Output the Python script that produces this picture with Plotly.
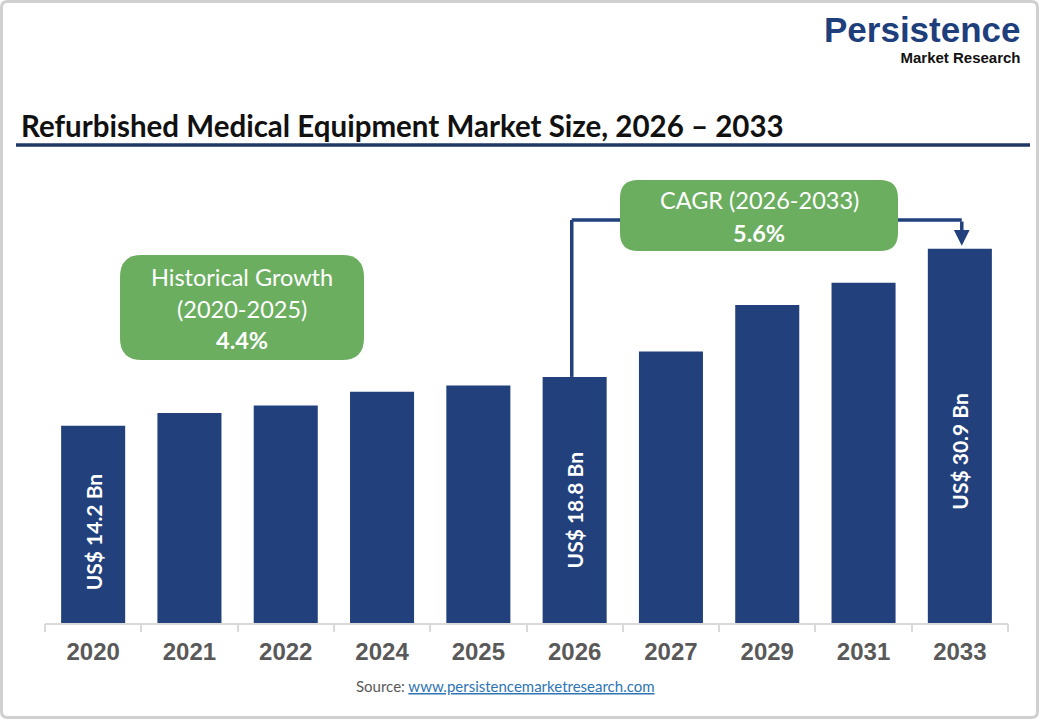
import plotly.graph_objects as go

# ---------------- data ----------------
years = ['2020', '2021', '2022', '2024', '2025', '2026', '2027', '2029', '2031', '2033']
market_size_bn = [14.2, 15.4, 16.1, 17.4, 18.0, 18.8, 21.2, 25.6, 27.7, 30.9]
labeled_years = ['2020', '2026', '2033']
hist_lines = ['Historical Growth', '(2020-2025)', '4.4%']
cagr_lines = ['CAGR (2026-2033)', '5.6%']
cagr_from, cagr_to = '2026', '2033'
title_text = 'Refurbished Medical Equipment Market Size, 2026 – 2033'
source_url = 'www.persistencemarketresearch.com'
brand = 'Persistence'
brand_sub = 'Market Research'

# ---------------- style ----------------
W, H = 1040, 720
NAVY = '#22407C'
GREEN = '#6BAE5F'
BODY = 'Lato'
FLOOR = -4.43   # value axis floor
YTOP = 35.5
PLOT_TOP, PLOT_BOT = 200, 623


def px(x):
    return x / W


def py(y):
    return 1 - y / H


def val_at_pixel(ypix):
    return FLOOR + (PLOT_BOT - ypix) * (YTOP - FLOOR) / (PLOT_BOT - PLOT_TOP)


def rounded(x0, y0, x1, y1, r):
    pts = [
        ('M', [(x0 + r, y0)]), ('L', [(x1 - r, y0)]), ('Q', [(x1, y0), (x1, y0 + r)]),
        ('L', [(x1, y1 - r)]), ('Q', [(x1, y1), (x1 - r, y1)]), ('L', [(x0 + r, y1)]),
        ('Q', [(x0, y1), (x0, y1 - r)]), ('L', [(x0, y0 + r)]), ('Q', [(x0, y0), (x0 + r, y0)]),
    ]
    s = ''
    for cmd, ps in pts:
        s += cmd + ' ' + ' '.join(f'{px(a):.5f},{py(b):.5f}' for a, b in ps) + ' '
    return s + 'Z'


xpos = list(range(len(years)))

fig = go.Figure()
fig.add_trace(go.Bar(
    x=xpos,
    y=[v - FLOOR for v in market_size_bn],
    base=FLOOR,
    marker=dict(color=NAVY, line=dict(width=0)),
    hoverinfo='skip',
))

shapes = []
annotations = []

# outer border
shapes.append(dict(type='path', xref='paper', yref='paper',
                   path=rounded(1.5, 1.5, 1037.5, 717.5, 6),
                   line=dict(color='#D0D0D0', width=3), layer='above'))
# title underline
shapes.append(dict(type='line', xref='paper', yref='paper',
                   x0=px(16), x1=px(1030), y0=py(145), y1=py(145),
                   line=dict(color='#1F3864', width=3.5)))

# connector
i0 = years.index(cagr_from)
i1 = years.index(cagr_to)
v0 = market_size_bn[i0]
v1 = market_size_bn[i1]
level = val_at_pixel(220)
shapes.append(dict(type='line', xref='x', yref='y', x0=i0 - 0.03, x1=i0 - 0.03, y0=v0, y1=level,
                   line=dict(color=NAVY, width=3.5)))
shapes.append(dict(type='line', xref='x', yref='y', x0=i0 - 0.03, x1=i1 + 0.02, y0=level, y1=level,
                   line=dict(color=NAVY, width=3.5)))
annotations.append(dict(x=i1 + 0.02, y=v1, ax=i1 + 0.02, ay=level, xref='x', yref='y',
                        axref='x', ayref='y', text='', showarrow=True, arrowhead=2,
                        arrowsize=0.9, arrowwidth=3.5, arrowcolor=NAVY, standoff=3))

# green boxes
shapes.append(dict(type='path', xref='paper', yref='paper', path=rounded(120, 255, 364, 360, 22),
                   fillcolor=GREEN, line=dict(width=0)))
shapes.append(dict(type='path', xref='paper', yref='paper', path=rounded(620, 180, 898, 251, 18),
                   fillcolor=GREEN, line=dict(width=0)))

for i, (txt, yc) in enumerate(zip(hist_lines, [277, 309, 340])):
    bold = i == len(hist_lines) - 1
    annotations.append(dict(x=px(242), y=py(yc), xref='paper', yref='paper', showarrow=False,
                            text=f'<b>{txt}</b>' if bold else txt,
                            font=dict(family=BODY, size=23.5, color='white'),
                            xanchor='center', yanchor='middle'))
for i, (txt, yc) in enumerate(zip(cagr_lines, [200, 233])):
    bold = i == len(cagr_lines) - 1
    annotations.append(dict(x=px(759), y=py(yc), xref='paper', yref='paper', showarrow=False,
                            text=f'<b>{txt}</b>' if bold else txt,
                            font=dict(family=BODY, size=23.5, color='white'),
                            xanchor='center', yanchor='middle'))

# bar value labels
for xi, yr, v in zip(xpos, years, market_size_bn):
    if yr in labeled_years:
        annotations.append(dict(x=xi, y=FLOOR + 0.46 * (v - FLOOR), xref='x', yref='y',
                                text=f'<b>US$ {v:.1f} Bn</b>', showarrow=False, textangle=-90,
                                font=dict(family=BODY, size=21, color='white')))

# title
annotations.append(dict(x=px(19), y=py(125), xref='paper', yref='paper', showarrow=False,
                        text=f'<b>{title_text}</b>', xanchor='left', yanchor='middle',
                        font=dict(family=BODY, size=29.5, color='#111111')))
# logo (one text block, two lines)
annotations.append(dict(x=px(1023), y=py(38), xref='paper', yref='paper', showarrow=False,
                        text=(f"<b><span style='font-size:35px;color:#1F3F7C'>{brand}</span><br>"
                              f"<span style='font-size:15px;color:#111111'>{brand_sub}</span></b>"),
                        xanchor='right', yanchor='middle', align='right',
                        font=dict(family='Liberation Sans', size=16, color='#111111')))
# source
annotations.append(dict(x=px(505), y=py(686), xref='paper', yref='paper', showarrow=False,
                        text=("<span style='color:#595959'>Source: </span>"
                              f"<span style='color:#2E75B6;text-decoration:underline'>{source_url}</span>"),
                        xanchor='center', yanchor='middle',
                        font=dict(family=BODY, size=15)))

boundaries = [x + 0.5 for x in [-1] + xpos]

fig.update_layout(
    width=W, height=H,
    margin=dict(l=0, r=0, t=0, b=0, pad=0, autoexpand=False),
    paper_bgcolor='white', plot_bgcolor='white',
    showlegend=False,
    bargap=0.335,
    xaxis=dict(domain=[px(45), px(1008)], range=[-0.5, len(years) - 0.5], showgrid=False, zeroline=False,
               showline=True, linecolor='#D9D9D9', linewidth=1.5,
               tickmode='array', tickvals=xpos, ticktext=[f'<b>{y}</b>' for y in years],
               ticks='', tickangle=0, automargin=False, ticklabelstandoff=6,
               tickfont=dict(family='Liberation Sans', size=24, color='#595959'), anchor='y'),
    xaxis2=dict(domain=[px(45), px(1008)], range=[-0.5, len(years) - 0.5], overlaying='x',
                anchor='y', side='bottom', showgrid=False, zeroline=False, showline=False,
                tickmode='array', tickvals=boundaries, ticktext=['' for _ in boundaries],
                ticks='outside', ticklen=8, tickcolor='#D9D9D9', tickwidth=1.5, automargin=False),
    yaxis=dict(domain=[py(PLOT_BOT), py(PLOT_TOP)], range=[FLOOR, YTOP], visible=False,
               showgrid=False, zeroline=False, automargin=False),
    shapes=shapes,
    annotations=annotations,
)
fig.add_trace(go.Scatter(x=[None], y=[None], xaxis='x2', yaxis='y', showlegend=False, hoverinfo='skip'))

fig.write_html('out.html', config={'displayModeBar': False},
               post_script="document.body.style.margin='0';document.body.style.overflow='hidden';")
